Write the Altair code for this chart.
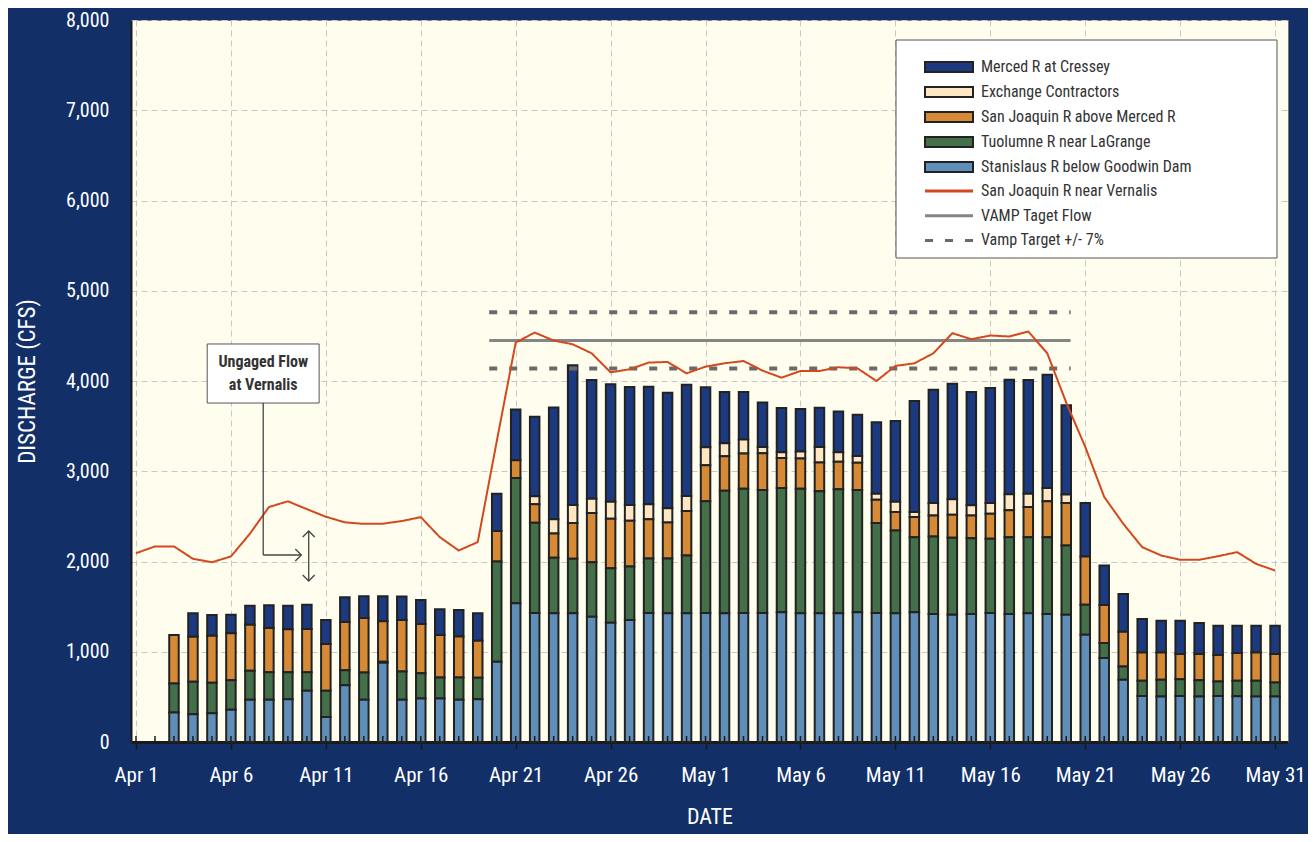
import datetime as dt
import altair as alt
import pandas as pd

FONT = "Roboto Condensed, Roboto, sans-serif"

# ---------------- data ----------------
YEAR = 2005
FLOW_START = dt.datetime(YEAR, 4, 1)   # Apr 1 .. May 31 (61 days)
BAR_START = dt.datetime(YEAR, 4, 3)    # Apr 3 .. May 31 (59 days)

vernalis = [2092, 2167, 2167, 2030, 1992, 2056, 2308, 2603, 2667, 2580,
            2496, 2434, 2417, 2419, 2448, 2492, 2270, 2122, 2215, 3330,
            4426, 4537, 4448, 4407, 4307, 4096, 4130, 4204, 4211, 4085,
            4159, 4196, 4222, 4115, 4037, 4111, 4111, 4152, 4141, 4000,
            4167, 4196, 4307, 4530, 4463, 4504, 4493, 4548, 4307, 3760,
            3270, 2715, 2419, 2159, 2067, 2019, 2019, 2059, 2104, 1974,
            1900]

stanislaus = [326, 307, 319, 356, 467, 467, 474, 567, 278, 630,
              467, 878, 467, 481, 481, 467, 474, 889, 1537, 1430,
              1426, 1426, 1389, 1322, 1352, 1430, 1426, 1426, 1430, 1426,
              1430, 1430, 1437, 1426, 1426, 1426, 1437, 1430, 1426, 1437,
              1419, 1411, 1419, 1430, 1419, 1426, 1419, 1411, 1189, 930,
              689, 511, 504, 511, 504, 511, 507, 504, 504]
tuolumne = [322, 360, 337, 329, 322, 307, 300, 207, 289, 166,
            303, 11, 314, 282, 234, 248, 237, 1111, 1389, 1000,
            615, 604, 604, 604, 592, 603, 607, 641, 1237, 1359,
            1377, 1363, 1378, 1381, 1352, 1374, 1356, 996, 918, 833,
            859, 852, 840, 822, 851, 844, 851, 767, 333, 166,
            148, 167, 185, 185, 181, 159, 171, 174, 155]
sj_above_merced = [537, 500, 522, 519, 511, 489, 474, 478, 518, 534,
                   604, 448, 571, 544, 470, 455, 411, 337, 196, 203,
                   270, 396, 544, 548, 508, 434, 400, 492, 400, 382,
                   389, 407, 333, 334, 318, 304, 300, 259, 204, 223,
                   233, 256, 252, 278, 297, 334, 397, 470, 534, 423,
                   385, 315, 304, 278, 289, 293, 307, 315, 315]
exchange = [0, 0, 0, 0, 0, 0, 0, 0, 0, 0,
            0, 0, 0, 0, 0, 0, 0, 0, 0, 89,
            156, 200, 159, 189, 174, 166, 156, 167, 200, 144,
            156, 70, 63, 78, 174, 107, 77, 67, 115, 55,
            137, 170, 111, 118, 177, 148, 148, 93, 0, 0,
            0, 0, 0, 0, 0, 0, 0, 0, 0]
merced = [0, 259, 229, 207, 211, 252, 263, 270, 267, 274,
          241, 278, 259, 267, 285, 293, 304, 415, 563, 882,
          1240, 1548, 1315, 1300, 1307, 1304, 1281, 1233, 663, 567,
          526, 493, 489, 470, 434, 452, 456, 792, 893, 1230,
          1256, 1281, 1256, 1274, 1271, 1259, 1255, 989, 592, 437,
          419, 370, 351, 370, 345, 326, 304, 296, 315]

sources = ["Merced R at Cressey", "Exchange Contractors",
           "San Joaquin R above Merced R", "Tuolumne R near LaGrange",
           "Stanislaus R below Goodwin Dam"]
source_colors = ["#1B3A80", "#FDE7C3", "#D78A35", "#436F49", "#5F8FB8"]
source_series = [merced, exchange, sj_above_merced, tuolumne, stanislaus]

line_names = ["San Joaquin R near Vernalis", "VAMP Taget Flow", "Vamp Target +/- 7%"]
line_colors = ["#D2491F", "#858585", "#6A6A6A"]
line_dashes = [[1, 0], [1, 0], [8, 12]]

vamp_target = 4450
vamp_band = 0.07
vamp_period = ["2005-04-19T14:30:00", "2005-05-20T05:30:00"]

x_ticks = [dt.date(YEAR, 4, d) for d in (1, 6, 11, 16, 21, 26)] + \
          [dt.date(YEAR, 5, d) for d in (1, 6, 11, 16, 21, 26, 31)]
y_ticks = [0, 1000, 2000, 3000, 4000, 5000, 6000, 7000, 8000]


def iso(t):
    return t.strftime("%Y-%m-%dT%H:%M:%S")


# long tables built from the arrays
bar_rows = []
for k, (name, vals) in enumerate(zip(sources, source_series)):
    for i, v in enumerate(vals):
        if v > 0:
            bar_rows.append({"date": iso(BAR_START + dt.timedelta(days=i)),
                             "source": name, "value": v, "stack": 4 - k})
bars_df = pd.DataFrame(bar_rows)

vern_df = pd.DataFrame({
    "date": [iso(FLOW_START + dt.timedelta(days=i)) for i in range(len(vernalis))],
    "value": vernalis,
    "series": line_names[0],
})
days_df = pd.DataFrame({"date": vern_df["date"]})

target_df = pd.DataFrame({"date": vamp_period, "value": [vamp_target] * 2,
                          "series": line_names[1], "lid": "t"})
band_df = pd.DataFrame({
    "date": vamp_period * 2,
    "value": [round(vamp_target * (1 + vamp_band))] * 2 + [round(vamp_target * (1 - vamp_band))] * 2,
    "series": line_names[2],
    "lid": ["up", "up", "lo", "lo"],
})

# annotation ("Ungaged Flow at Vernalis") anchored in data space
ann_box = pd.DataFrame({"x": ["2005-04-04T18:00:00"], "x2": ["2005-04-10T15:30:00"],
                        "y": [4410], "y2": [3756]})
ann_text = pd.DataFrame({"x": ["2005-04-07T16:50:00"] * 2, "y": [4215, 3955],
                         "t": ["Ungaged Flow", "at Vernalis"]})
ann_lines = pd.DataFrame({
    "x": ["2005-04-07T16:50:00", "2005-04-07T16:50:00", "2005-04-10T02:20:00"],
    "x2": ["2005-04-07T16:50:00", "2005-04-09T17:00:00", "2005-04-10T02:20:00"],
    "y": [3756, 2072, 2338],
    "y2": [2072, 2072, 1784],
})
ann_heads = pd.DataFrame({
    "x": ["2005-04-09T17:00:00", "2005-04-10T02:20:00", "2005-04-10T02:20:00"],
    "y": [2072, 2338, 1784],
    "shape": ["right", "up", "down"],
})

# ---------------- scales / axes ----------------
W, H = 1157, 722
xscale = alt.Scale(domain=[alt.DateTime(year=YEAR, month=4, date=1),
                           alt.DateTime(year=YEAR, month=5, date=31, hours=10)])
yscale = alt.Scale(domain=[0, 8000], nice=False)

xaxis = alt.Axis(values=[alt.DateTime(year=t.year, month=t.month, date=t.day) for t in x_ticks],
                 format="%b %-d", labelFlush=False, labelOverlap=False,
                 labelFontSize=21, labelPadding=15, tickSize=7, tickColor="#1a1a1a",
                 tickWidth=1.5, domainColor="#1a1a1a", domainWidth=3,
                 titleFontSize=22, titlePadding=21, grid=True)
yaxis = alt.Axis(values=y_ticks, format=",d", labelFontSize=20, labelPadding=22,
                 ticks=False, domainColor="#1a1a1a", domainWidth=2,
                 titleFontSize=23, titlePadding=26, grid=True)


def X(field="date"):
    return alt.X(f"{field}:T", scale=xscale, axis=xaxis, title="DATE")


def Y(field="value", stack=None):
    if stack:
        return alt.Y(f"{field}:Q", scale=yscale, axis=yaxis, title="DISCHARGE (CFS)", stack=stack)
    return alt.Y(f"{field}:Q", scale=yscale, axis=yaxis, title="DISCHARGE (CFS)")


legend_common = dict(title=None, orient="none", legendX=792, padding=0,
                     symbolSize=100, symbolOffset=18, labelOffset=24,
                     labelFont=FONT, labelFontSize=16, labelColor="#333333",
                     labelLimit=400)
bar_legend = alt.Legend(legendY=39, rowPadding=7, symbolType="M-4.8,-1H4.8V1H-4.8Z",
                        symbolStrokeColor="#222222", symbolStrokeWidth=2,
                        **legend_common)
line_legend = alt.Legend(legendY=163, rowPadding=8.7, symbolType="M-4.8,0H4.8",
                         symbolStrokeWidth=3, **legend_common)

stroke_enc = alt.Stroke("series:N", scale=alt.Scale(domain=line_names, range=line_colors),
                        legend=line_legend)
dash_enc = alt.StrokeDash("series:N", scale=alt.Scale(domain=line_names, range=line_dashes),
                          legend=line_legend)

# ---------------- layers ----------------
bars = alt.Chart(bars_df).mark_bar(size=9.5, stroke="#222222", strokeWidth=2).encode(
    x=X(), y=Y(stack="zero"),
    fill=alt.Fill("source:N", scale=alt.Scale(domain=sources, range=source_colors),
                  legend=bar_legend),
    order=alt.Order("stack:Q"),
)

minor_ticks = alt.Chart(days_df).mark_rule(color="#1a1a1a", strokeWidth=1.5).encode(
    x=X(), y=alt.value(H), y2=alt.value(H - 6))

target = alt.Chart(target_df).mark_line(strokeWidth=3).encode(
    x=X(), y=Y(), stroke=stroke_enc, strokeDash=dash_enc, detail="lid:N")
band = alt.Chart(band_df).mark_line(strokeWidth=4).encode(
    x=X(), y=Y(), stroke=stroke_enc, strokeDash=dash_enc, detail="lid:N")
vern = alt.Chart(vern_df).mark_line(strokeWidth=2).encode(
    x=X(), y=Y(), stroke=stroke_enc, strokeDash=dash_enc)

box = alt.Chart(ann_box).mark_rect(fill="white", stroke="#555555", strokeWidth=1).encode(
    x=X("x"), x2="x2:T", y=Y("y"), y2="y2:Q")
box_text = alt.Chart(ann_text).mark_text(font=FONT, fontSize=16, fontWeight="bold",
                                         color="#333333").encode(x=X("x"), y=Y("y"), text="t:N")
conn = alt.Chart(ann_lines).mark_rule(color="#444444", strokeWidth=1.3).encode(
    x=X("x"), x2="x2:T", y=Y("y"), y2="y2:Q")
heads = alt.Chart(ann_heads).mark_point(filled=False, size=144, stroke="#444444",
                                        strokeWidth=1.3, opacity=1).encode(
    x=X("x"), y=Y("y"),
    shape=alt.Shape("shape:N", scale=alt.Scale(
        domain=["right", "up", "down"],
        range=["M-1,-1L0,0L-1,1", "M-1,1L0,0L1,1", "M-1,-1L0,0L1,-1"]), legend=None))

legend_box = alt.Chart(pd.DataFrame({"k": [0]})).mark_rect(
    fill="white", stroke="#555555", strokeWidth=1).encode(
    x=alt.value(765), x2=alt.value(1146), y=alt.value(20), y2=alt.value(238))

chart = alt.layer(bars, minor_ticks, target, band, vern, box, box_text, conn, heads,
                  legend_box).properties(
    width=W, height=H,
    autosize=alt.AutoSizeParams(type="none"),
    padding={"left": 123, "top": 12, "right": 20, "bottom": 92},
    background="#122F68",
).configure_view(fill="#FFFDEE", stroke="#777777", strokeWidth=1).configure_axis(
    labelFont=FONT, titleFont=FONT, labelColor="white", titleColor="white",
    titleFontWeight="normal", gridColor="#C8C8C8", gridDash=[6, 4], gridWidth=1,
)

chart.save("out.html", embed_options={"renderer": "svg", "actions": False})
